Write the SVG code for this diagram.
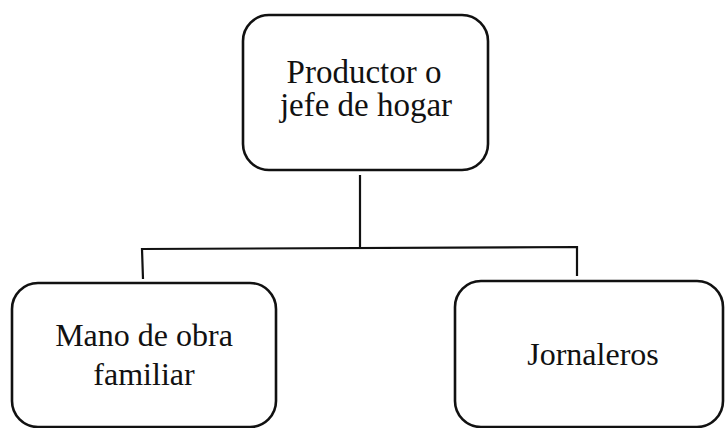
<svg xmlns="http://www.w3.org/2000/svg" width="725" height="428" viewBox="0 0 725 428">
<style>
.box{fill:#fff;stroke:#111;stroke-width:2.6}
.t{font-family:"Liberation Serif",serif;font-size:32px;fill:#111;text-anchor:middle}
.c{fill:none;stroke:#111;stroke-width:2.2}
</style>
<rect width="725" height="428" fill="#fff"/>
<g id="connectors">
<polyline class="c" points="360,175 360,247"/>
<polyline class="c" points="143,279 142,249 577,247 577,276"/>
</g>
<g id="n1">
<rect class="box" x="243" y="15" width="245" height="155" rx="26"/>
<text class="t" x="364" y="83" style="font-size:33px">Productor o</text>
<text class="t" x="366" y="116" style="font-size:33px">jefe de hogar</text>
</g>
<g id="n2">
<rect class="box" x="12" y="283" width="264" height="144" rx="26"/>
<text class="t" x="144" y="346">Mano de obra</text>
<text class="t" x="144" y="385">familiar</text>
</g>
<g id="n3">
<rect class="box" x="455" y="281" width="268" height="146" rx="26"/>
<text class="t" x="593" y="365">Jornaleros</text>
</g>
</svg>
